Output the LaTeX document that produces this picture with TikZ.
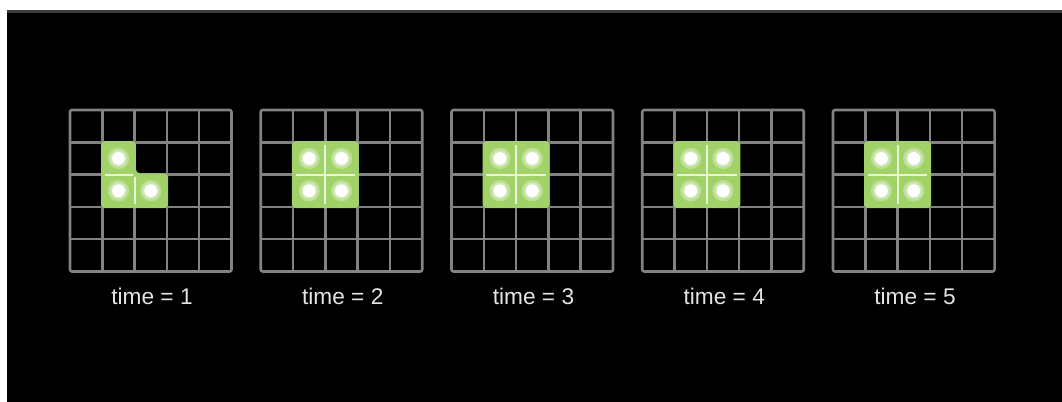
\documentclass[tikz,border=0pt]{standalone}
\usepackage{fontspec}
\setmainfont{Liberation Sans}
\usepackage{xcolor}
\usetikzlibrary{positioning}

\definecolor{gridgray}{RGB}{130,130,130}
\definecolor{cellgreen}{RGB}{160,210,104}
\definecolor{labelgray}{RGB}{228,228,228}
\definecolor{edgegray}{RGB}{60,60,60}

\begin{document}
\begin{tikzpicture}[x=0.75pt, y=-0.75pt,
  gridline/.style={draw=gridgray, line width=1.9pt, rounded corners=1.5pt},
  live/.style={fill=cellgreen, rounded corners=3pt},
  divider/.style={draw=white!75!cellgreen, line width=1.6pt},
  glow/.style={fill=white, opacity=0.3},
  dot/.style={fill=white},
  label/.style={font=\fontsize{17}{20}\selectfont, text=labelgray}
]

\useasboundingbox (0,0) rectangle (1062,402);
\fill[white] (0,0) rectangle (1062,402);
\fill[black] (7,10) rectangle (1062,402);
\fill[edgegray] (7,10) rectangle (1062,13);

% the five boards and their labels
\foreach \k in {0,...,4} {
  \begin{scope}[shift={(70+190.75*\k,110)}, x=24.225pt, y=-24.225pt]
    \draw[gridline] (0,0) rectangle (5,5);
    \foreach \i in {1,...,4}
      \draw[gridline] (\i,0) -- (\i,5) (0,\i) -- (5,\i);
  \end{scope}
  \pgfmathtruncatemacro\t{\k+1}
  \node[label] (time\t) at (152+190.75*\k,296) {time = \t};
}

% time = 1: the L shape
\begin{scope}[shift={(70,110)}, x=24.225pt, y=-24.225pt]
  \fill[live] (0.96,0.96) -- (2.04,0.96) -- (2.04,1.96) -- (3.04,1.96)
    -- (3.04,3.04) -- (0.96,3.04) -- cycle;
  \draw[divider] (1.08,2) -- (1.96,2);
  \draw[divider] (2,2.08) -- (2,2.92);
  \foreach \c/\r in {1/1,1/2,2/2} {
    \fill[glow] (\c+0.5,\r+0.5) circle (8pt);
    \fill[glow] (\c+0.5,\r+0.5) circle (6.3pt);
    \fill[dot] (\c+0.5,\r+0.5) circle (4.8pt);
  }
\end{scope}

% time = 2 to 5: the block
\foreach \k in {1,...,4} {
  \begin{scope}[shift={(70+190.75*\k,110)}, x=24.225pt, y=-24.225pt]
    \fill[live] (0.96,0.96) rectangle (3.04,3.04);
    \draw[divider] (1.08,2) -- (2.92,2);
    \draw[divider] (2,1.08) -- (2,2.92);
    \foreach \c/\r in {1/1,2/1,1/2,2/2} {
      \fill[glow] (\c+0.5,\r+0.5) circle (8pt);
      \fill[glow] (\c+0.5,\r+0.5) circle (6.3pt);
      \fill[dot] (\c+0.5,\r+0.5) circle (4.8pt);
    }
  \end{scope}
}

\end{tikzpicture}
\end{document}
